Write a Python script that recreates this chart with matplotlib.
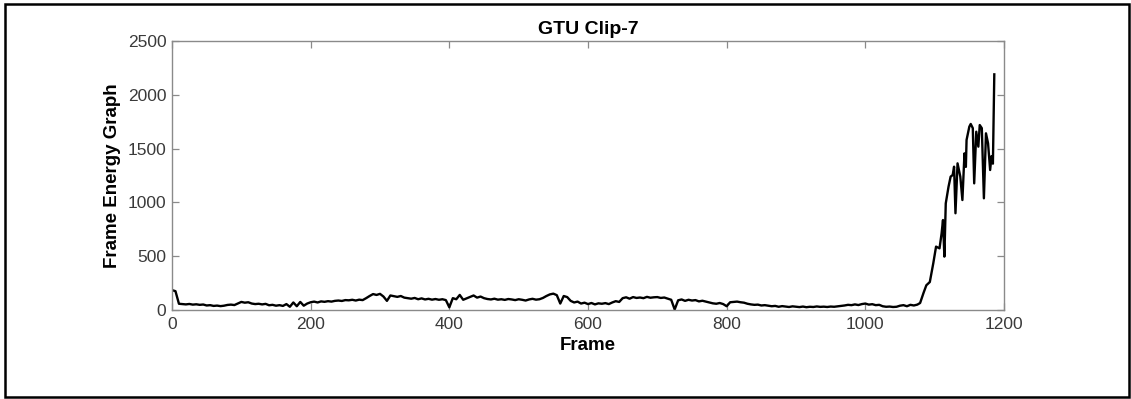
import matplotlib
matplotlib.use("Agg")
from matplotlib import pyplot as plt
from matplotlib.patches import Rectangle
import numpy as np

plt.rcParams['font.family'] = ['Liberation Sans', 'DejaVu Sans']

# energy per frame, sampled every 5 frames over the quiet part (frames 0..1075)
energy_low = [
    185, 175, 58, 55, 52, 56, 50, 53, 48, 51, 42, 45, 38, 41, 36, 40, 47, 50, 46, 60,
    75, 68, 72, 60, 55, 58, 52, 57, 44, 48, 40, 45, 38, 55, 30, 70, 35, 75, 40, 60,
    72, 78, 70, 80, 76, 82, 78, 85, 88, 84, 92, 90, 95, 88, 96, 92, 110, 130, 148, 140,
    150, 125, 85, 135, 128, 122, 130, 115, 110, 105, 112, 100, 108, 98, 104, 96, 102, 95, 100, 92,
    25, 110, 100, 140, 95, 108, 120, 135, 115, 125, 110, 102, 98, 105, 96, 100, 94, 102, 98, 92,
    100, 95, 88, 98, 104, 96, 100, 112, 130, 145, 152, 138, 60, 130, 120, 85, 70, 78, 60, 68,
    55, 65, 52, 62, 58, 64, 55, 70, 82, 75, 110, 118, 105, 120, 112, 116, 110, 122, 114, 118,
    120, 112, 116, 105, 95, 5, 90, 98, 85, 95, 88, 92, 80, 86, 78, 70, 62, 58, 65, 55,
    35, 72, 75, 78, 72, 68, 58, 52, 48, 50, 42, 45, 40, 35, 38, 30, 36, 32, 28, 34,
    30, 27, 32, 26, 30, 28, 33, 29, 31, 28, 32, 30, 34, 38, 42, 48, 45, 52, 46, 55,
    60, 50, 54, 45, 48, 35, 30, 32, 28, 30, 40, 45, 35, 48, 42, 50,
]
frames_low = np.arange(len(energy_low)) * 5

# the burst at the end of the clip
frames_high = [1079, 1084, 1088, 1093, 1098, 1102, 1107, 1110, 1112, 1114,
               1116, 1120, 1123, 1126, 1128, 1130, 1133, 1137, 1140, 1143,
               1145, 1146, 1150, 1152, 1155, 1157, 1160, 1163, 1165, 1168,
               1171, 1174, 1177, 1180, 1182, 1184, 1186]
energy_high = [65, 160, 230, 260, 434, 589, 573, 712, 836, 496,
               991, 1146, 1239, 1255, 1332, 899, 1363, 1239, 1022, 1456,
               1330, 1580, 1704, 1729, 1690, 1177, 1657, 1518, 1719, 1690,
               1038, 1642, 1549, 1301, 1430, 1360, 2190]

frames = np.concatenate([frames_low, frames_high])
energy = np.concatenate([energy_low, energy_high])

x_ticks = [0, 200, 400, 600, 800, 1000, 1200]
y_ticks = [0, 500, 1000, 1500, 2000, 2500]

fig = plt.figure(figsize=(11.31, 3.99), dpi=100)
ax = fig.add_axes([172 / 1131, 1 - 310 / 399, 832 / 1131, 269 / 399])

ax.plot(frames, energy, color="black", linewidth=1.7)

ax.set_xlim(0, 1200)
ax.set_ylim(0, 2500)
ax.set_xticks(x_ticks)
ax.set_yticks(y_ticks)

for s in ax.spines.values():
    s.set_color("#8a8a8a")
    s.set_linewidth(1.0)
ax.tick_params(direction="in", length=5, width=0.9, color="#8a8a8a",
               labelcolor="#3a3a3a", labelsize=12.5, top=True, right=True)
ax.tick_params(axis="x", pad=5)
ax.tick_params(axis="y", pad=4)

ax.set_title("GTU Clip-7", fontsize=14, fontweight="bold", pad=5)
ax.set_xlabel("Frame", fontsize=13.5, fontweight="bold", labelpad=4)
ax.set_ylabel("Frame Energy Graph", fontsize=13.5, fontweight="bold", labelpad=5)

# black frame around the whole figure
fig.patches.append(Rectangle((5 / 1131, 2 / 399), 1124 / 1131, 393 / 399,
                             transform=fig.transFigure, fill=False,
                             edgecolor="black", linewidth=1.8))

fig.savefig("out.png", dpi=100)
